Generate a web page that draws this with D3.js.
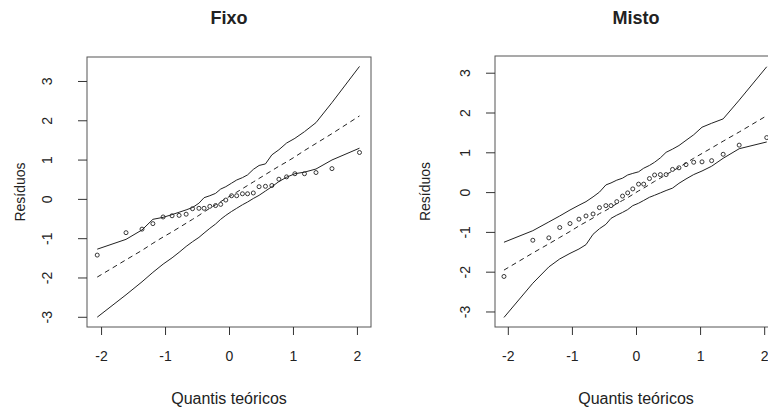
<!DOCTYPE html>
<html>
<head>
<meta charset="utf-8">
<script src="https://cdn.jsdelivr.net/npm/d3@7"></script>
<style>
  body { margin: 0; background: #fff; }
  text { font-family: "Liberation Sans", Arial, sans-serif; fill: #222; }
</style>
</head>
<body>
<div id="chart"></div>
<script>
// theoretical quantiles (same for both panels)
var quantis = [-2.06,-1.61,-1.36,-1.19,-1.03,-0.89,-0.78,-0.67,-0.57,-0.47,-0.39,-0.30,-0.21,-0.13,-0.05,
               0.04,0.12,0.21,0.29,0.38,0.47,0.57,0.67,0.78,0.90,1.03,1.18,1.36,1.61,2.04];

// Fixo
var fixoRes = [-1.43,-0.86,-0.77,-0.63,-0.46,-0.43,-0.42,-0.39,-0.25,-0.24,-0.24,-0.19,-0.17,-0.14,-0.03,
               0.08,0.08,0.13,0.13,0.15,0.31,0.32,0.34,0.50,0.56,0.64,0.64,0.67,0.77,1.18];
var fixoSup = [-1.28,-1.03,-0.79,-0.52,-0.47,-0.40,-0.34,-0.28,-0.22,-0.11,0.03,0.08,0.14,0.25,0.31,
               0.40,0.48,0.54,0.61,0.75,0.85,0.89,1.12,1.25,1.42,1.54,1.71,1.94,2.45,3.37];
var fixoMed = [-1.99,-1.55,-1.31,-1.13,-0.97,-0.84,-0.73,-0.62,-0.52,-0.42,-0.33,-0.24,-0.15,-0.07,0.01,
               0.09,0.17,0.26,0.34,0.43,0.52,0.62,0.72,0.83,0.94,1.07,1.23,1.41,1.66,2.11];
var fixoInf = [-3.01,-2.44,-2.11,-1.87,-1.66,-1.50,-1.36,-1.21,-1.09,-0.98,-0.87,-0.75,-0.64,-0.52,-0.42,
               -0.32,-0.24,-0.15,-0.08,0.01,0.09,0.20,0.31,0.44,0.55,0.64,0.68,0.76,0.99,1.29];

// Misto
var mistoRes = [-2.12,-1.21,-1.15,-0.89,-0.79,-0.68,-0.60,-0.55,-0.39,-0.34,-0.34,-0.24,-0.10,-0.02,0.08,
                0.20,0.20,0.34,0.43,0.44,0.44,0.57,0.61,0.69,0.75,0.76,0.79,0.95,1.18,1.37];
var mistoSup = [-1.26,-0.97,-0.75,-0.60,-0.45,-0.33,-0.24,-0.12,0.00,0.18,0.23,0.30,0.35,0.43,0.47,
                0.51,0.60,0.67,0.75,0.86,1.00,1.08,1.17,1.30,1.44,1.63,1.73,1.84,2.31,3.15];
var mistoMed = [-1.96,-1.53,-1.30,-1.14,-0.99,-0.85,-0.75,-0.65,-0.54,-0.46,-0.38,-0.29,-0.21,-0.14,-0.06,
                0.03,0.10,0.19,0.27,0.35,0.44,0.53,0.62,0.73,0.85,0.97,1.11,1.28,1.51,1.92];
var mistoInf = [-3.15,-2.29,-1.88,-1.68,-1.54,-1.43,-1.32,-1.06,-0.92,-0.81,-0.66,-0.58,-0.51,-0.44,-0.34,
                -0.28,-0.21,-0.13,-0.08,-0.02,0.04,0.10,0.22,0.33,0.44,0.53,0.65,0.85,1.09,1.26];

var xTicks = [-2, -1, 0, 1, 2];
var yTicks = [-3, -2, -1, 0, 1, 2, 3];

var svg = d3.select("#chart").append("svg")
  .attr("width", 768)
  .attr("height", 409);

function drawPanel(p) {
  var x = d3.scaleLinear().domain(p.xdom).range([p.left, p.right]);
  var y = d3.scaleLinear().domain(p.ydom).range([p.bottom, p.top]);
  var g = svg.append("g");

  // title
  g.append("text")
    .attr("x", (p.left + p.right) / 2).attr("y", 24)
    .attr("text-anchor", "middle")
    .style("font-weight", "bold").style("font-size", "18px")
    .text(p.title);

  // box
  g.append("rect")
    .attr("x", p.left).attr("y", p.top)
    .attr("width", p.right - p.left).attr("height", p.bottom - p.top)
    .attr("fill", "none").attr("stroke", "#555").attr("stroke-width", 1);

  // x axis (plain hyphen for negatives, like R)
  var xa = g.append("g").attr("transform", "translate(0," + p.bottom + ")")
    .call(d3.axisBottom(x).tickValues(xTicks).tickSize(8).tickPadding(16)
      .tickFormat(function(d) { return String(d); }));
  xa.select(".domain").remove();
  xa.selectAll("line").attr("stroke", "#333");
  xa.selectAll("text").style("font-size", "14px").attr("fill", "#222");

  // y axis, labels parallel to the axis
  var ya = g.append("g").attr("transform", "translate(" + p.left + ",0)")
    .call(d3.axisLeft(y).tickValues(yTicks).tickSize(9)
      .tickFormat(function(d) { return String(d); }));
  ya.select(".domain").remove();
  ya.selectAll("line").attr("stroke", "#333");
  ya.selectAll("text")
    .style("font-size", "14px").attr("fill", "#222")
    .attr("text-anchor", "middle")
    .attr("x", 0).attr("y", 0).attr("dy", "0.35em")
    .attr("transform", "translate(" + (p.ylabX - p.left) + ",0) rotate(-90)");

  // axis titles
  g.append("text")
    .attr("x", (p.left + p.right) / 2).attr("y", 404)
    .attr("text-anchor", "middle").style("font-size", "16px")
    .text("Quantis teóricos");
  g.append("text")
    .attr("transform", "translate(" + p.ytitX + "," + ((p.top + p.bottom) / 2) + ") rotate(-90)")
    .attr("text-anchor", "middle").attr("dy", "0.35em").style("font-size", "14px")
    .text("Resíduos");

  var line = d3.line()
    .x(function(d, i) { return x(quantis[i]); })
    .y(function(d) { return y(d); });

  g.append("path").datum(p.sup).attr("d", line)
    .attr("fill", "none").attr("stroke", "#222").attr("stroke-width", 1);
  g.append("path").datum(p.inf).attr("d", line)
    .attr("fill", "none").attr("stroke", "#222").attr("stroke-width", 1);
  g.append("path").datum(p.med).attr("d", line)
    .attr("fill", "none").attr("stroke", "#222").attr("stroke-width", 1)
    .attr("stroke-dasharray", "5,4");

  g.selectAll("circle").data(p.res).enter().append("circle")
    .attr("cx", function(d, i) { return x(quantis[i]); })
    .attr("cy", function(d) { return y(d); })
    .attr("r", 2)
    .attr("fill", "none").attr("stroke", "#222").attr("stroke-width", 0.9);
}

drawPanel({
  title: "Fixo", left: 87, right: 371, top: 57, bottom: 327,
  xdom: [-2.22, 2.22], ydom: [-3.26, 3.61], ylabX: 47, ytitX: 20,
  res: fixoRes, sup: fixoSup, med: fixoMed, inf: fixoInf
});

drawPanel({
  title: "Misto", left: 495, right: 777, top: 56, bottom: 327,
  xdom: [-2.2, 2.2], ydom: [-3.39, 3.42], ylabX: 465, ytitX: 425,
  res: mistoRes, sup: mistoSup, med: mistoMed, inf: mistoInf
});
</script>
</body>
</html>
